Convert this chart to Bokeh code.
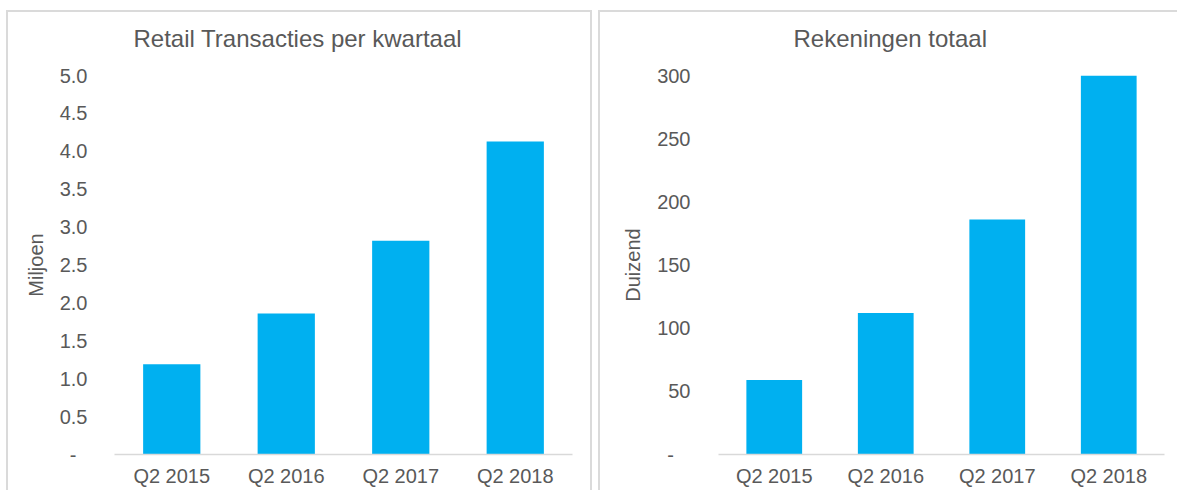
from bokeh.plotting import figure
from bokeh.models import Range1d, FactorRange, FixedTicker, Title, Spacer
from bokeh.layouts import row, column
from bokeh.embed import file_html
from bokeh.resources import INLINE

periods = ["Q2 2015", "Q2 2016", "Q2 2017", "Q2 2018"]
transactions = [1.19, 1.86, 2.82, 4.13]   # Miljoen
accounts = [59, 112, 186, 301]            # Duizend

left_ticks = [0, 0.5, 1.0, 1.5, 2.0, 2.5, 3.0, 3.5, 4.0, 4.5, 5.0]
left_tick_labels = ["-\u00a0\u00a0", "0.5", "1.0", "1.5", "2.0", "2.5", "3.0", "3.5", "4.0", "4.5", "5.0"]
right_ticks = [0, 50, 100, 150, 200, 250, 300]
right_tick_labels = ["-\u00a0\u00a0\u00a0", "50", "100", "150", "200", "250", "300"]

BAR = "#00B0F0"
TXT = "#595959"
AXIS = "#d9d9d9"
FONT = "Liberation Sans"
BORDER = "2px solid #dadada"


def make(title, ylabel, values, ymax, ticks, labels, width, mb_left, mb_right,
         label_standoff, title_offset, border_css):
    p = figure(x_range=FactorRange(*periods), y_range=Range1d(0, ymax),
               width=width, height=480, output_backend="svg",
               toolbar_location=None, min_border_left=mb_left,
               min_border_right=mb_right, min_border_top=63,
               min_border_bottom=38)
    p.vbar(x=periods, top=values, width=0.5, fill_color=BAR, line_color=None)
    # thin spacer title next to the frame, then the real title above it
    p.add_layout(Title(text=" ", text_font_size="1px", standoff=21), "above")
    p.add_layout(Title(text=title, align="left", text_font=FONT,
                       text_font_size="24px", text_color=TXT,
                       text_font_style="normal", standoff=0,
                       offset=title_offset), "above")
    p.outline_line_color = None
    p.xgrid.grid_line_color = None
    p.ygrid.grid_line_color = None

    p.yaxis.ticker = FixedTicker(ticks=ticks)
    p.yaxis.major_label_overrides = {tk: lb for tk, lb in zip(ticks, labels)}
    p.yaxis.axis_line_color = None
    p.yaxis.major_tick_line_color = None
    p.yaxis.minor_tick_line_color = None
    p.yaxis.major_label_standoff = label_standoff
    p.yaxis.major_label_text_font = FONT
    p.yaxis.major_label_text_font_size = "20px"
    p.yaxis.major_label_text_color = TXT
    p.yaxis.axis_label = ylabel
    p.yaxis.axis_label_text_font = FONT
    p.yaxis.axis_label_text_font_size = "20px"
    p.yaxis.axis_label_text_color = TXT
    p.yaxis.axis_label_text_font_style = "normal"
    p.yaxis.axis_label_standoff = 10

    p.xaxis.axis_line_color = AXIS
    p.xaxis.axis_line_width = 1.5
    p.xaxis.major_tick_line_color = None
    p.xaxis.minor_tick_line_color = None
    p.xaxis.major_label_standoff = 4
    p.xaxis.major_label_text_font = FONT
    p.xaxis.major_label_text_font_size = "20px"
    p.xaxis.major_label_text_color = TXT
    p.styles = border_css
    return p


p1 = make("Retail Transacties per kwartaal", "Miljoen", transactions, 5.0,
          left_ticks, left_tick_labels, 586, 106, 22, 21, 19,
          {"border-top": BORDER, "border-left": BORDER, "border-right": BORDER})
p2 = make("Rekeningen totaal", "Duizend", accounts, 300,
          right_ticks, right_tick_labels, 579, 118, 15, 22, 75,
          {"border-top": BORDER, "border-left": BORDER})

layout = column(Spacer(height=10),
                row(Spacer(width=6), p1, Spacer(width=6), p2))
open("out.html", "w").write(file_html(layout, INLINE))
